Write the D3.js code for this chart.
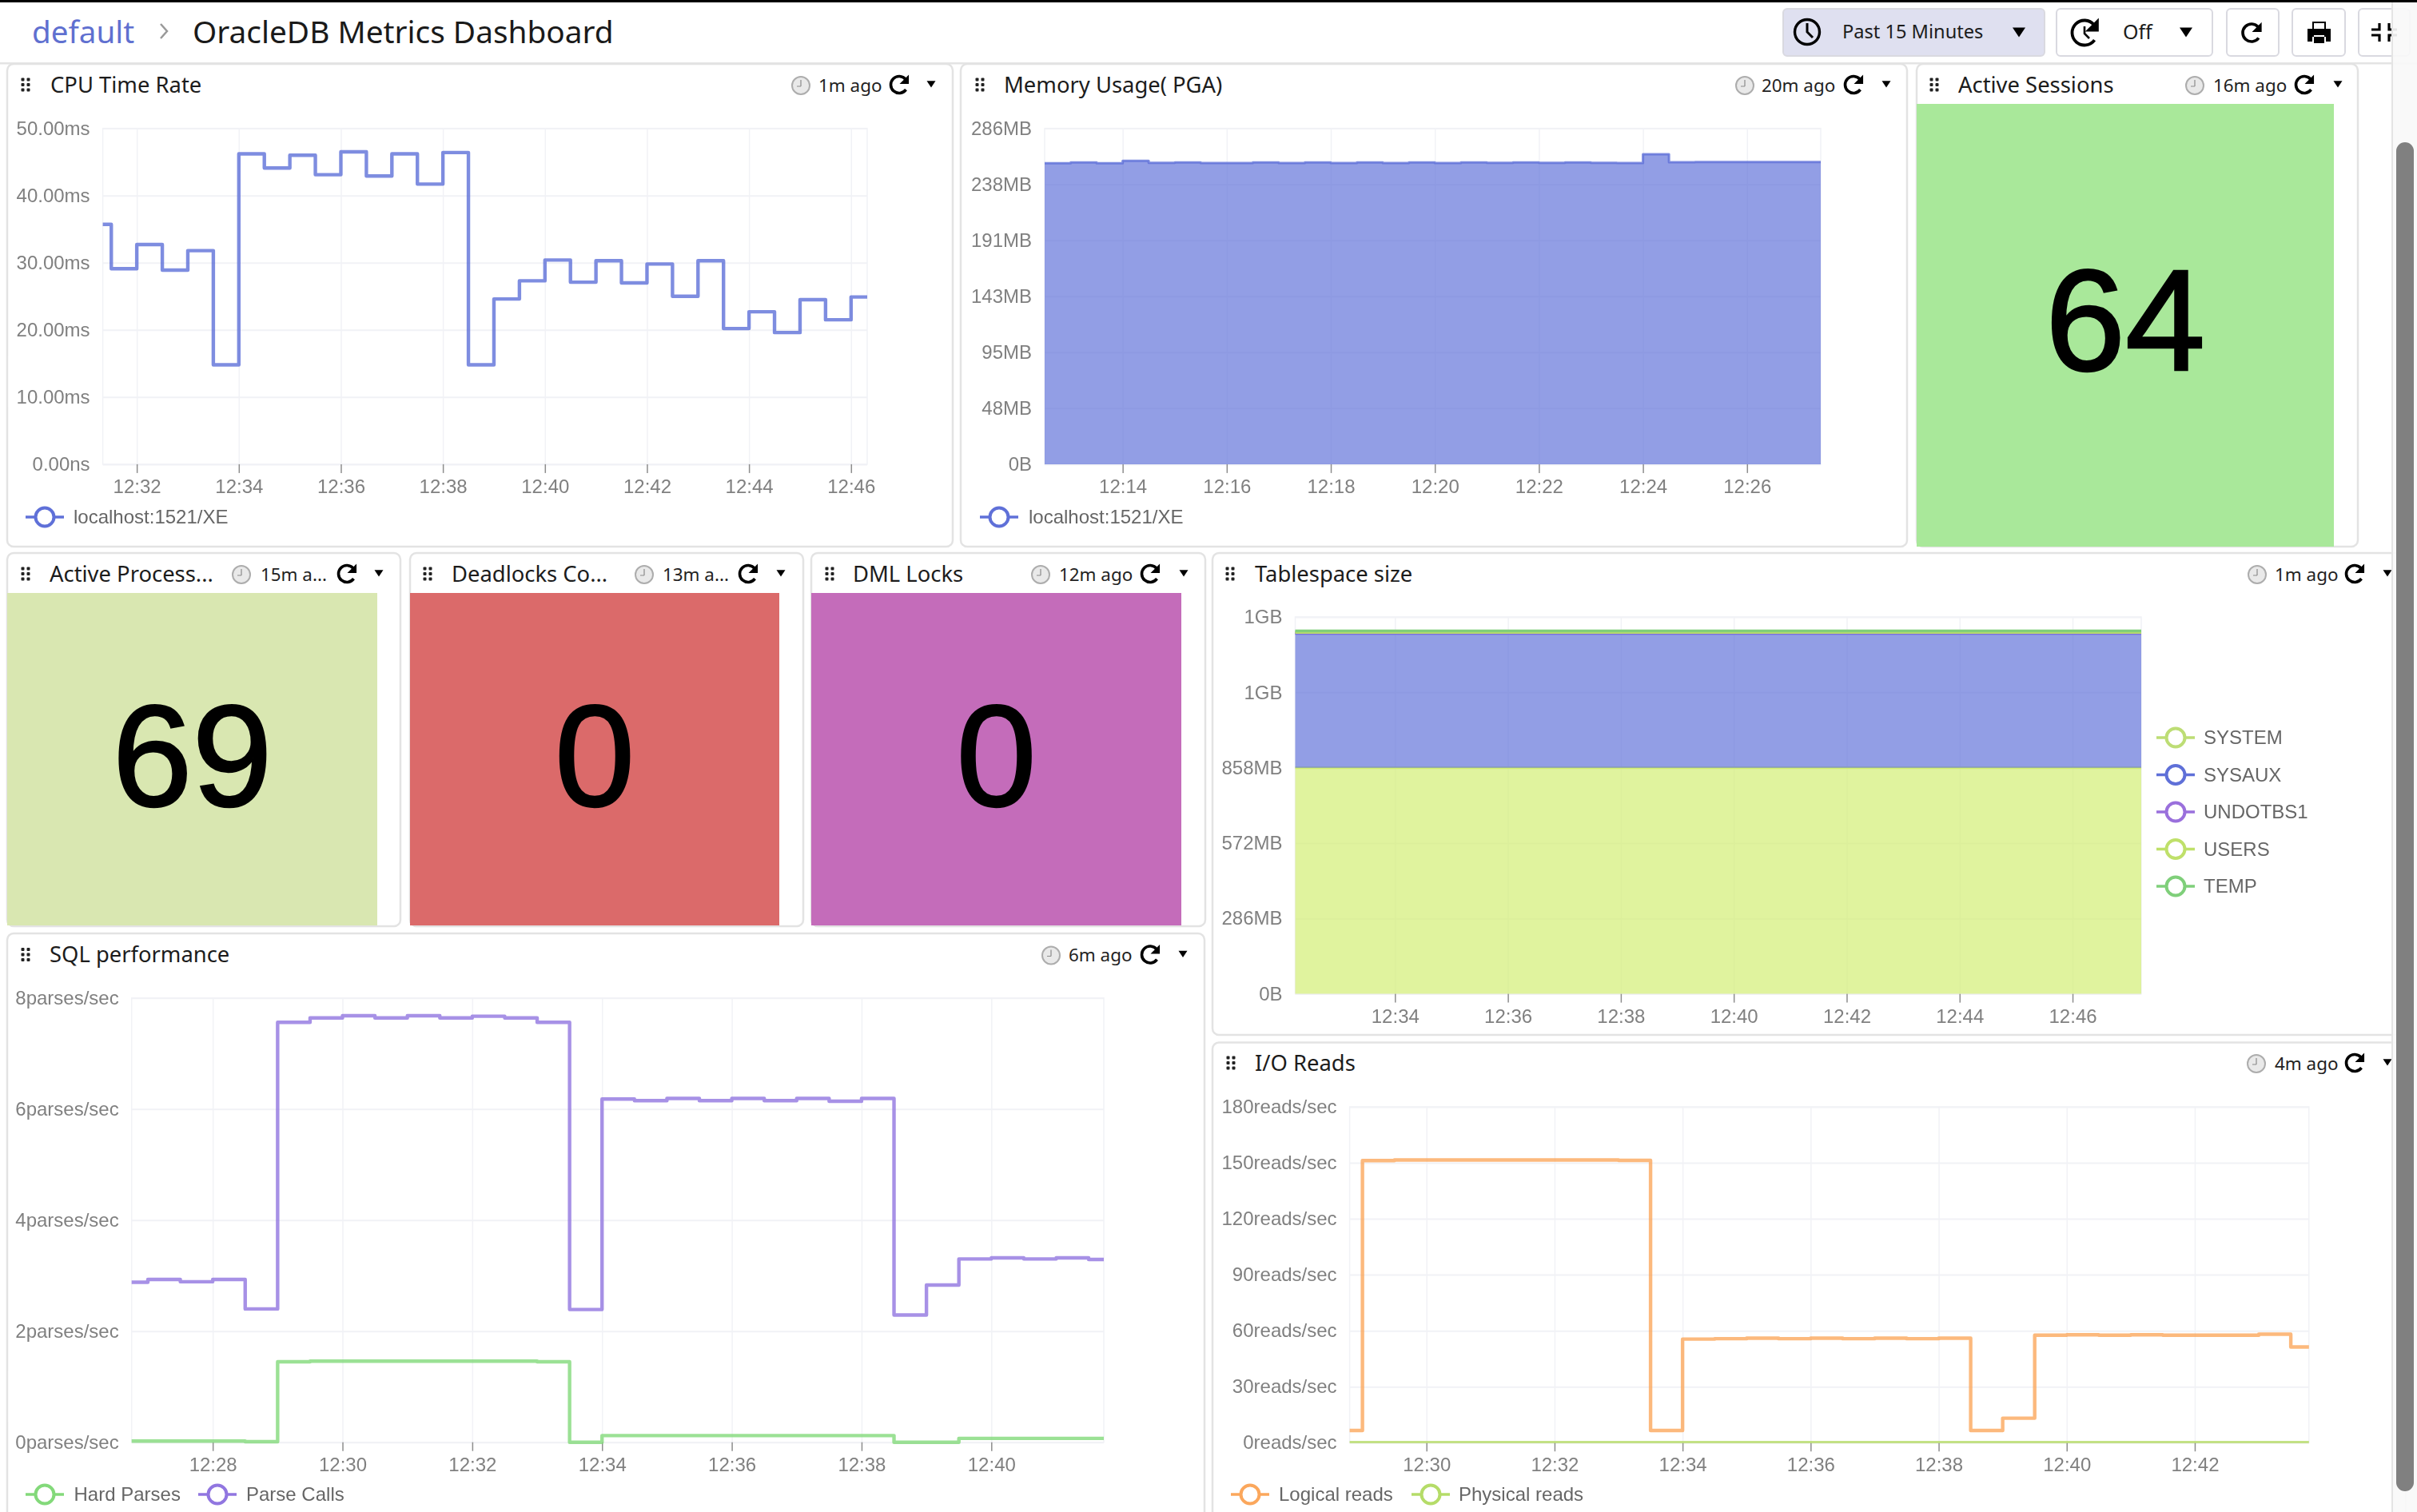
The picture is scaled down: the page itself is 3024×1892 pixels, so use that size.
<!DOCTYPE html>
<html>
<head>
<meta charset="utf-8">
<title>OracleDB Metrics Dashboard</title>
<script src="https://cdn.jsdelivr.net/npm/d3@7"></script>
<style>
  body { margin: 0; background: #fff; overflow: hidden; }
  svg { display: block; }
  .ui { font-family: "Noto Sans", sans-serif; }
  .chart text { font-family: "Liberation Sans", sans-serif; font-size: 24px; fill: #808080; filter: url(#soft); }
  .legend text { font-family: "Liberation Sans", sans-serif; font-size: 24px; fill: #666; filter: url(#soft); }
  .big { font-family: "Liberation Sans", sans-serif; font-size: 180px; fill: #000; stroke: #000; stroke-width: 2.5px; }
</style>
</head>
<body>
<svg id="vis-canvas" width="3024" height="1892"></svg>
<script>
// values, one entry per 30 second sample
const cpuValues = [35.7, 29.1, 32.7, 28.9, 31.8, 14.8, 46.2, 44.1, 46.0, 43.1, 46.5, 42.9, 46.2, 41.7, 46.4, 14.8,
  24.6, 27.3, 30.4, 27.1, 30.3, 27.0, 29.8, 25.0, 30.3, 20.2, 22.7, 19.6, 24.5, 21.5, 24.9];
const cpuTicks = ["50.00ms", "40.00ms", "30.00ms", "20.00ms", "10.00ms", "0.00ns"];

const memoryValues = [256.3, 256.9, 256.3, 258.4, 256.6, 257.0, 256.5, 256.5, 256.9, 256.5, 256.9, 256.4, 257.0, 256.4,
  256.9, 256.5, 257.0, 256.6, 257.0, 256.6, 256.9, 256.6, 256.4, 264.0, 257.2, 257.3, 257.3, 257.3, 257.3, 257.3];
const memoryTicks = ["286MB", "238MB", "191MB", "143MB", "95MB", "48MB", "0B"];

const tablespaceNames = ["SYSTEM", "SYSAUX", "UNDOTBS1", "USERS", "TEMP"];
const tablespaceSizes = [858, 509, 2, 2, 7];
const tablespaceTicks = ["1GB", "1GB", "858MB", "572MB", "286MB", "0B"];

const parseCalls = [2.88, 2.93, 2.89, 2.93, 2.40, 7.56, 7.64, 7.68, 7.64, 7.68, 7.64, 7.67, 7.64, 7.56, 2.39,
  6.18, 6.15, 6.19, 6.15, 6.19, 6.15, 6.19, 6.14, 6.19, 2.29, 2.83, 3.30, 3.32, 3.30, 3.32, 3.29];
const hardParses = [0.02, 0.02, 0.02, 0.02, 0.01, 1.45, 1.46, 1.46, 1.46, 1.46, 1.46, 1.46, 1.46, 1.45, 0,
  0.12, 0.12, 0.12, 0.12, 0.12, 0.12, 0.12, 0.12, 0.12, 0, 0, 0.07, 0.07, 0.07, 0.07, 0.07];
const sqlTicks = ["8parses/sec", "6parses/sec", "4parses/sec", "2parses/sec", "0parses/sec"];

const logicalReads = [6.5, 151.2, 151.5, 151.5, 151.5, 151.5, 151.5, 151.5, 151.5, 151.3, 6.5,
  55.5, 55.7, 56.0, 55.7, 56.0, 55.7, 56.0, 55.7, 56.0, 6.5, 13.1,
  57.6, 57.8, 57.6, 57.8, 57.6, 57.6, 57.6, 58.1, 51.3];
const physicalReads = [0, 0.6, 0.6, 0.6, 0.6, 0.6, 0.6, 0.6, 0.6, 0.6, 0.1,
  0.1, 0.1, 0.1, 0.1, 0.1, 0.1, 0.1, 0.1, 0.1, 0.1, 0.1,
  0.1, 0.1, 0.1, 0.1, 0.1, 0.1, 0.1, 0.1, 0.1];
const ioTicks = ["180reads/sec", "150reads/sec", "120reads/sec", "90reads/sec", "60reads/sec", "30reads/sec", "0reads/sec"];

const activeSessions = 64, activeProcesses = 69, deadlocks = 0, dmlLocks = 0;

const BLUE = "#5f70d8", PURPLE = "#9176e0", GREEN = "#83d97a", LIME = "#b5dc68", ORANGE = "#fba75c";
const tablespaceColors = ["#d2ee70", "#5f70d8", "#9a6fdc", "#bfe06a", "#7fcf7a"];
const tablespaceLegend = ["#bddd74", "#5f70d8", "#9a6fdc", "#bfe06a", "#7fcf7a"];

const svg = d3.select("#vis-canvas");
svg.append("filter").attr("id", "soft").append("feGaussianBlur").attr("stdDeviation", 0.55);
const tm = (h, m, s) => new Date(2023, 0, 1, h, m, s || 0);

// turn a list of samples into points 30s apart, last one repeated so the step runs past the plot edge
function samples(start, vals) {
  return vals.concat(vals[vals.length - 1]).map((v, i) => ({t: new Date(+start + i * 30000), v: v}));
}

function panelBox(x0, y0, x1, y1) {
  svg.append("rect").attr("x", x0).attr("y", y0).attr("width", x1 - x0).attr("height", y1 - y0)
    .attr("rx", 8).attr("fill", "#fff").attr("stroke", "#e3e3e3").attr("stroke-width", 2.5);
}

function dragIcon(x, y) {
  [-1, 1].forEach(i => [-1, 0, 1].forEach(j => {
    svg.append("rect").attr("x", x + i * 3.5 - 2).attr("y", y + j * 6.5 - 2)
      .attr("width", 4).attr("height", 4).attr("rx", 1).attr("fill", "#222");
  }));
}

function refreshIcon(x, y, r, w) {
  let p = d3.path();
  p.arc(x, y, r, Math.PI * 0.2, Math.PI * 1.78, false);
  svg.append("path").attr("d", p.toString()).attr("fill", "none").attr("stroke", "#000").attr("stroke-width", w);
  svg.append("path").attr("fill", "#000")
    .attr("d", `M${x + 1.15 * r},${y - 1.2 * r} L${x + 1.15 * r},${y - 0.1 * r} L${x + 0.05 * r},${y - 0.1 * r} Z`);
}

function caret(x, y, s) {
  svg.append("path").attr("fill", "#000").attr("d", `M${x - s},${y - s * 0.7} L${x + s},${y - s * 0.7} L${x},${y + s * 0.8} Z`);
}

function smallClock(x, y) {
  svg.append("circle").attr("cx", x).attr("cy", y).attr("r", 11)
    .attr("fill", "#e9e9e9").attr("stroke", "#adadad").attr("stroke-width", 2);
  svg.append("path").attr("d", `M${x},${y + 1} L${x},${y - 7} M${x},${y + 1} L${x - 5},${y + 1}`)
    .attr("stroke", "#8a8a8a").attr("stroke-width", 1.2).attr("fill", "none");
}

function panelHeader(dragX, titleX, y, title, clockX, agoX, ago, refreshX, caretX) {
  dragIcon(dragX, y);
  svg.append("text").attr("class", "ui").attr("x", titleX).attr("y", y).attr("dy", "0.35em")
    .attr("font-size", 27.4).attr("fill", "#1c1c1c").text(title);
  smallClock(clockX, y + 1);
  svg.append("text").attr("class", "ui").attr("x", agoX + 1).attr("y", y + 1).attr("dy", "0.35em")
    .attr("font-size", 22.4).attr("fill", "#222").text(ago);
  refreshIcon(refreshX, y, 10.5, 3.6);
  caret(caretX, y - 1, 5.5);
}

// grid and axes, plot box given in page pixels
function drawFrame(p, x, y, yLabels, xTicks) {
  let ticks = yLabels.map((l, i) => y.domain()[1] * (yLabels.length - 1 - i) / (yLabels.length - 1));
  let g = svg.append("g").attr("class", "chart");
  let gridY = g.append("g").attr("transform", `translate(${p.x0},0)`)
    .call(d3.axisLeft(y).tickValues(ticks).tickSize(-(p.x1 - p.x0)).tickPadding(16)
      .tickFormat((d, i) => yLabels[i]));
  gridY.select(".domain").remove();
  gridY.selectAll("line").attr("stroke", "#f1f2f6").attr("stroke-width", 2);
  let gridX = g.append("g").attr("transform", `translate(0,${p.y0})`)
    .call(d3.axisBottom(x).tickValues(xTicks).tickSize(p.y1 - p.y0).tickFormat(""));
  gridX.select(".domain").remove();
  gridX.selectAll("line").attr("stroke", "#f1f2f6").attr("stroke-width", 1.5);
  g.append("rect").attr("x", p.x0).attr("y", p.y0).attr("width", p.x1 - p.x0).attr("height", p.y1 - p.y0)
    .attr("fill", "none").attr("stroke", "#f1f2f6").attr("stroke-width", 1.5);
  let axisX = g.append("g").attr("transform", `translate(0,${p.y1})`)
    .call(d3.axisBottom(x).tickValues(xTicks).tickSize(11).tickPadding(8).tickFormat(d3.timeFormat("%H:%M")));
  axisX.select(".domain").remove();
  axisX.selectAll("line").attr("stroke", "#8d8d8d").attr("stroke-width", 1.5);
}

let clipCount = 0;
function clipFor(p) {
  let id = "plot-clip-" + (clipCount++);
  svg.append("clipPath").attr("id", id).append("rect")
    .attr("x", p.x0).attr("y", p.y0 - 5).attr("width", p.x1 - p.x0).attr("height", p.y1 - p.y0 + 10);
  return "url(#" + id + ")";
}

function drawLine(p, x, y, data, color, width) {
  let line = d3.line().x(d => x(d.t)).y(d => y(d.v)).curve(d3.curveStepAfter);
  svg.append("g").attr("clip-path", clipFor(p)).append("path").datum(data).attr("d", line).attr("fill", "none")
    .attr("stroke", color).attr("stroke-opacity", 0.8).attr("stroke-width", width || 4.4)
    .attr("stroke-linejoin", "round").attr("filter", "url(#soft)");
}

function legendItem(x, y, label, color, textX) {
  let g = svg.append("g").attr("class", "legend");
  let mark = g.append("g").attr("filter", "url(#soft)");
  mark.append("line").attr("x1", x - 24).attr("x2", x + 24).attr("y1", y).attr("y2", y)
    .attr("stroke", color).attr("stroke-width", 3.6);
  mark.append("circle").attr("cx", x).attr("cy", y).attr("r", 11.5).attr("fill", "#fff")
    .attr("stroke", color).attr("stroke-width", 4);
  g.append("text").attr("x", textX).attr("y", y).attr("dy", "0.35em").text(label);
}

function scales(p, from, to, top) {
  return {
    x: d3.scaleTime().domain([from, to]).range([p.x0, p.x1]),
    y: d3.scaleLinear().domain([0, top]).range([p.y1, p.y0])
  };
}

function statTile(rect, value, cy) {
  svg.append("rect").attr("x", rect.x0).attr("y", rect.y0).attr("width", rect.x1 - rect.x0)
    .attr("height", rect.y1 - rect.y0).attr("fill", rect.fill);
  svg.append("text").attr("class", "big").attr("x", (rect.x0 + rect.x1) / 2).attr("y", cy)
    .attr("dy", "0.35em").attr("text-anchor", "middle").text(value);
}

function drawHeader() {
  svg.append("rect").attr("x", 0).attr("y", 78).attr("width", 3024).attr("height", 2.5).attr("fill", "#e4e4e4");
  svg.append("text").attr("class", "ui").attr("x", 40).attr("y", 40).attr("dy", "0.35em")
    .attr("font-size", 38.6).attr("fill", "#5f70d0").text("default");
  svg.append("path").attr("d", "M201,30 L209,39 L201,48").attr("fill", "none").attr("stroke", "#999").attr("stroke-width", 2.5);
  svg.append("text").attr("class", "ui").attr("x", 241).attr("y", 40).attr("dy", "0.35em")
    .attr("font-size", 38.8).attr("fill", "#1a1a1a").text("OracleDB Metrics Dashboard");

  let buttons = [[2231, 2558, "#dfe0f0"], [2573, 2768, "#fff"], [2786, 2851, "#fff"], [2868, 2934, "#fff"], [2951, 3015, "#fff"]];
  buttons.forEach(b => {
    svg.append("rect").attr("x", b[0]).attr("y", 11).attr("width", b[1] - b[0]).attr("height", 59).attr("rx", 5)
      .attr("fill", b[2]).attr("stroke", "#d9d9e0").attr("stroke-width", 2);
  });
  svg.append("circle").attr("cx", 2261).attr("cy", 40).attr("r", 15.5).attr("fill", "none").attr("stroke", "#000").attr("stroke-width", 3.4);
  svg.append("path").attr("d", "M2261,29 L2261,40 L2268,47").attr("fill", "none").attr("stroke", "#000").attr("stroke-width", 3);
  svg.append("text").attr("class", "ui").attr("x", 2305).attr("y", 40).attr("dy", "0.35em")
    .attr("font-size", 23.6).attr("fill", "#1c1c1c").text("Past 15 Minutes");
  caret(2526, 40, 8);
  refreshIcon(2608, 41, 15.5, 3.8);
  svg.append("path").attr("d", "M2608,33 L2608,42 L2614,48").attr("fill", "none").attr("stroke", "#000").attr("stroke-width", 2.6);
  svg.append("text").attr("class", "ui").attr("x", 2656).attr("y", 40).attr("dy", "0.35em")
    .attr("font-size", 25).attr("fill", "#1c1c1c").text("Off");
  caret(2735, 40, 8);
  refreshIcon(2817, 41, 11, 3.6);
  // print icon
  svg.append("path").attr("fill", "#000").attr("fill-rule", "evenodd")
    .attr("d", "M2893,27 h17 v9 h6 v16 h-6 v-6 h-17 v6 h-6 v-16 h6 Z M2895,29 v7 h13 v-7 Z M2895,44 v10 h13 v-10 Z");
  // fullscreen icon
  svg.append("path").attr("fill", "none").attr("stroke", "#000").attr("stroke-width", 3.2)
    .attr("d", "M2977,29 v8 h-10 M2989,29 v8 h10 M2977,52 v-8 h-10 M2989,52 v-8 h10");
}

function drawCpu() {
  panelBox(9, 80, 1192, 684);
  panelHeader(32, 63, 106, "CPU Time Rate", 1002, 1023, "1m ago", 1125, 1165);
  let p = {x0: 128.6, x1: 1085, y0: 160.6, y1: 580.9};
  let s = scales(p, tm(12, 31, 20), tm(12, 46, 19), 50);
  drawFrame(p, s.x, s.y, cpuTicks, d3.range(32, 47, 2).map(m => tm(12, m)));
  drawLine(p, s.x, s.y, samples(tm(12, 31), cpuValues), BLUE);
  legendItem(56, 647, "localhost:1521/XE", BLUE, 92);
}

function drawMemory() {
  panelBox(1202, 80, 2386, 684);
  panelHeader(1226, 1256, 106, "Memory Usage( PGA)", 2183, 2203, "20m ago", 2319, 2360);
  let p = {x0: 1307, x1: 2278, y0: 160.6, y1: 580.9};
  let s = scales(p, tm(12, 12, 30), tm(12, 27, 25), 286);
  drawFrame(p, s.x, s.y, memoryTicks, d3.range(14, 27, 2).map(m => tm(12, m)));
  let data = samples(tm(12, 12, 30), memoryValues);
  let area = d3.area().x(d => s.x(d.t)).y0(s.y(0)).y1(d => s.y(d.v)).curve(d3.curveStepAfter);
  svg.append("path").datum(data).attr("d", area).attr("fill", BLUE).attr("fill-opacity", 0.68).attr("clip-path", clipFor(p));
  drawLine(p, s.x, s.y, data, BLUE, 3);
  legendItem(1250, 647, "localhost:1521/XE", BLUE, 1287);
}

function drawTablespace() {
  panelBox(1517, 692, 3010, 1295);
  panelHeader(1539, 1570, 718, "Tablespace size", 2824, 2845, "1m ago", 2946, 2987);
  let p = {x0: 1620.5, x1: 2679, y0: 772, y1: 1243.6};
  let from = tm(12, 32, 14), to = tm(12, 47, 13);
  let s = scales(p, from, to, 1430);
  drawFrame(p, s.x, s.y, tablespaceTicks, d3.range(34, 47, 2).map(m => tm(12, m)));
  let rows = [from, to].map(t => {
    let r = {t: t};
    tablespaceNames.forEach((n, i) => { r[n] = tablespaceSizes[i]; });
    return r;
  });
  let layers = d3.stack().keys(tablespaceNames)(rows);
  let area = d3.area().x(d => s.x(d.data.t)).y0(d => s.y(d[0])).y1(d => s.y(d[1]));
  let top = d3.line().x(d => s.x(d.data.t)).y(d => s.y(d[1]));
  layers.forEach((l, i) => {
    svg.append("path").datum(l).attr("d", area).attr("fill", tablespaceColors[i]).attr("fill-opacity", 0.68);
    svg.append("path").datum(l).attr("d", top).attr("fill", "none")
      .attr("stroke", tablespaceColors[i]).attr("stroke-width", 3);
  });
  let legendY = d3.scalePoint().domain(tablespaceNames).range([923, 1109]);
  tablespaceNames.forEach((n, i) => legendItem(2722, legendY(n), n, tablespaceLegend[i], 2757));
}

function drawSql() {
  panelBox(9, 1168, 1507, 1910);
  panelHeader(32, 62, 1194.5, "SQL performance", 1315, 1336, "6m ago", 1439, 1480);
  let p = {x0: 164.7, x1: 1381, y0: 1248.7, y1: 1804.7};
  let s = scales(p, tm(12, 26, 45), tm(12, 41, 44), 8);
  drawFrame(p, s.x, s.y, sqlTicks, d3.range(28, 41, 2).map(m => tm(12, m)));
  drawLine(p, s.x, s.y, samples(tm(12, 26, 30), hardParses), GREEN);
  drawLine(p, s.x, s.y, samples(tm(12, 26, 30), parseCalls), PURPLE);
  legendItem(56, 1870, "Hard Parses", GREEN, 92.5);
  legendItem(272, 1870, "Parse Calls", PURPLE, 308);
}

function drawIo() {
  panelBox(1517, 1304.5, 3010, 1910);
  panelHeader(1540, 1570, 1330, "I/O Reads", 2823, 2845, "4m ago", 2946, 2987);
  let p = {x0: 1688.6, x1: 2888.8, y0: 1385, y1: 1805.2};
  let s = scales(p, tm(12, 28, 48), tm(12, 43, 47), 180);
  drawFrame(p, s.x, s.y, ioTicks, d3.range(30, 43, 2).map(m => tm(12, m)));
  drawLine(p, s.x, s.y, samples(tm(12, 28, 30), physicalReads), LIME);
  drawLine(p, s.x, s.y, samples(tm(12, 28, 30), logicalReads), ORANGE);
  legendItem(1564, 1870, "Logical reads", ORANGE, 1600);
  legendItem(1790, 1870, "Physical reads", LIME, 1825);
}

function drawTiles() {
  panelBox(2398, 80, 2950, 684);
  panelHeader(2420, 2450, 106, "Active Sessions", 2746, 2768, "16m ago", 2883, 2925);
  statTile({x0: 2398, x1: 2920, y0: 130, y1: 684, fill: "#a9e89a"}, activeSessions, 400);

  panelBox(9, 692, 501, 1159);
  panelHeader(32, 62, 718, "Active Process...", 302, 325, "15m a...", 434, 474);
  statTile({x0: 9, x1: 472, y0: 742, y1: 1158, fill: "#d9e7b1"}, activeProcesses, 945);

  panelBox(513, 692, 1005, 1159);
  panelHeader(535, 565, 718, "Deadlocks Co...", 806, 828, "13m a...", 936, 977);
  statTile({x0: 513, x1: 975, y0: 742, y1: 1158, fill: "#db6a6a"}, deadlocks, 945);

  panelBox(1015, 692, 1508, 1159);
  panelHeader(1038, 1067, 718, "DML Locks", 1302, 1324, "12m ago", 1439, 1481);
  statTile({x0: 1015, x1: 1478, y0: 742, y1: 1158, fill: "#c46cba"}, dmlLocks, 945);
}

function drawScrollbar() {
  // the bar sits over the page, buttons show through faintly
  svg.append("rect").attr("x", 2993).attr("y", 0).attr("width", 31).attr("height", 1892)
    .attr("fill", "#f8f8f8").attr("fill-opacity", 0.92);
  svg.append("rect").attr("x", 2992).attr("y", 0).attr("width", 2).attr("height", 1892).attr("fill", "#e4e4e4");
  svg.append("rect").attr("x", 2998).attr("y", 178).attr("width", 22).attr("height", 1688)
    .attr("rx", 11).attr("fill", "#808080");
  svg.append("rect").attr("x", 0).attr("y", 0).attr("width", 3024).attr("height", 3).attr("fill", "#000");
}

drawHeader();
drawCpu();
drawMemory();
drawTiles();
drawTablespace();
drawSql();
drawIo();
drawScrollbar();
</script>
</body>
</html>
